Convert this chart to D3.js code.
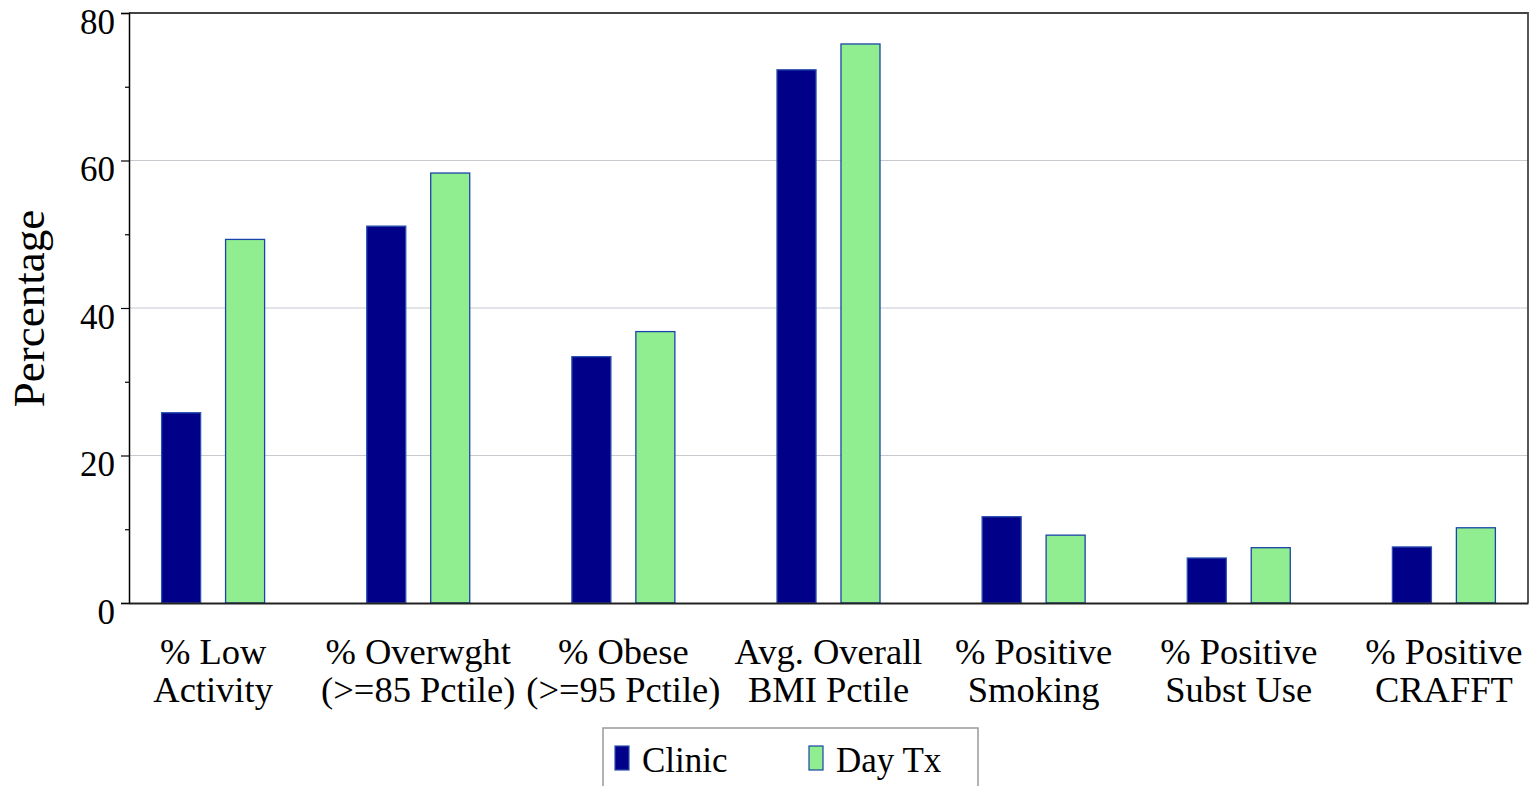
<!DOCTYPE html>
<html>
<head>
<meta charset="utf-8">
<script src="https://cdn.jsdelivr.net/npm/d3@7"></script>
<style>
  html, body { margin: 0; padding: 0; background: #fff; }
  svg { display: block; font-family: "Liberation Serif", "Times New Roman", serif; }
</style>
</head>
<body>
<svg id="chart" width="1531" height="786"></svg>
<script>
// ---- data ----
const categories = [
  "% Low\nActivity",
  "% Overwght\n(>=85 Pctile)",
  "% Obese\n(>=95 Pctile)",
  "Avg. Overall\nBMI Pctile",
  "% Positive\nSmoking",
  "% Positive\nSubst Use",
  "% Positive\nCRAFFT"
];
const seriesNames = ["Clinic", "Day Tx"];
const clinicValues = [25.8, 51.1, 33.4, 72.3, 11.7, 6.1, 7.6];
const dayTxValues  = [49.3, 58.3, 36.8, 75.8, 9.2, 7.5, 10.2];
const yTicks = [0, 20, 40, 60, 80];
const yMinorTicks = [10, 30, 50, 70];
const yTitle = "Percentage";

// ---- layout ----
const svg = d3.select("#chart");
const plotLeft = 129, plotRight = 1528, plotTop = 13, plotBottom = 603;
const colors = { "Clinic": "#000088", "Day Tx": "#90ee90" };
const strokes = { "Clinic": "#2a4fb0", "Day Tx": "#1a44a8" };

const x = d3.scalePoint().domain(categories).range([plotLeft, plotRight]).padding(0.41);
const xInner = d3.scaleBand().domain(seriesNames).range([-51.5, 51.5]).paddingInner(0.39);
const y = d3.scaleLinear().domain([0, 80]).range([plotBottom, plotTop]);

// gridlines
svg.append("g").selectAll("line")
  .data(yTicks.filter(d => d > 0 && d < 80))
  .join("line")
  .attr("x1", plotLeft).attr("x2", plotRight)
  .attr("y1", d => y(d)).attr("y2", d => y(d))
  .attr("stroke", "#c8cacf").attr("stroke-width", 1.2);

// frame (top & right)
svg.append("path")
  .attr("d", `M${plotLeft},${plotTop}H${plotRight}V${plotBottom}`)
  .attr("fill", "none").attr("stroke", "#444").attr("stroke-width", 1.8);

// bars
const rows = categories.map((c, i) => ({ cat: c, values: [
  { s: "Clinic", v: clinicValues[i] },
  { s: "Day Tx", v: dayTxValues[i] }
]}));
const groups = svg.append("g").selectAll("g").data(rows).join("g")
  .attr("transform", d => `translate(${x(d.cat)},0)`);
groups.selectAll("rect").data(d => d.values).join("rect")
  .attr("x", d => xInner(d.s))
  .attr("width", xInner.bandwidth())
  .attr("y", d => y(d.v))
  .attr("height", d => y(0) - y(d.v))
  .attr("fill", d => colors[d.s])
  .attr("stroke", d => strokes[d.s])
  .attr("stroke-width", 1.3);

// y axis
const yAxis = svg.append("g").attr("transform", `translate(${plotLeft},0)`)
  .call(d3.axisLeft(y).tickValues(yTicks).tickSize(8).tickPadding(6).tickFormat(d3.format("d")));
yAxis.select(".domain").attr("stroke", "#000").attr("stroke-width", 1.5);
yAxis.selectAll(".tick line").attr("stroke", "#000").attr("stroke-width", 1.2);
yAxis.selectAll(".tick text")
  .attr("font-family", "Liberation Serif, serif")
  .attr("font-size", 35).attr("fill", "#000")
  .attr("dy", "20px");
// minor ticks
svg.append("g").attr("transform", `translate(${plotLeft},0)`)
  .call(d3.axisLeft(y).tickValues(yMinorTicks).tickSize(4).tickFormat(""))
  .call(g => g.select(".domain").remove())
  .selectAll(".tick line").attr("stroke", "#000").attr("stroke-width", 1.2);

// x axis (baseline)
const xAxis = svg.append("g").attr("transform", `translate(0,${plotBottom})`)
  .call(d3.axisBottom(x).tickSize(0).tickFormat(""));
xAxis.select(".domain").attr("stroke", "#222").attr("stroke-width", 1.8);

// category labels
const labels = svg.append("g").attr("font-size", 36.5).attr("fill", "#000").attr("text-anchor", "middle");
categories.forEach(c => {
  const lines = c.split("\n");
  const t = labels.append("text").attr("x", x(c)).attr("y", 664);
  lines.forEach((ln, i) => {
    t.append("tspan").attr("x", x(c)).attr("dy", i === 0 ? 0 : 38).text(ln);
  });
});

// y title
svg.append("text")
  .attr("transform", `translate(44,308.5) rotate(-90)`)
  .attr("text-anchor", "middle")
  .attr("font-size", 45)
  .text(yTitle);

// legend
const lg = svg.append("g");
lg.append("rect").attr("x", 603).attr("y", 728).attr("width", 375).attr("height", 70)
  .attr("fill", "#fff").attr("stroke", "#999").attr("stroke-width", 1.5);
const legendX = d3.scaleOrdinal().domain(seriesNames).range([615, 809]);
seriesNames.forEach(s => {
  lg.append("rect").attr("x", legendX(s)).attr("y", 746).attr("width", 14).attr("height", 24)
    .attr("fill", colors[s]).attr("stroke", strokes[s]).attr("stroke-width", 1.2);
  lg.append("text").attr("x", legendX(s) + 27).attr("y", 772).attr("font-size", 35).text(s);
});
</script>
</body>
</html>
